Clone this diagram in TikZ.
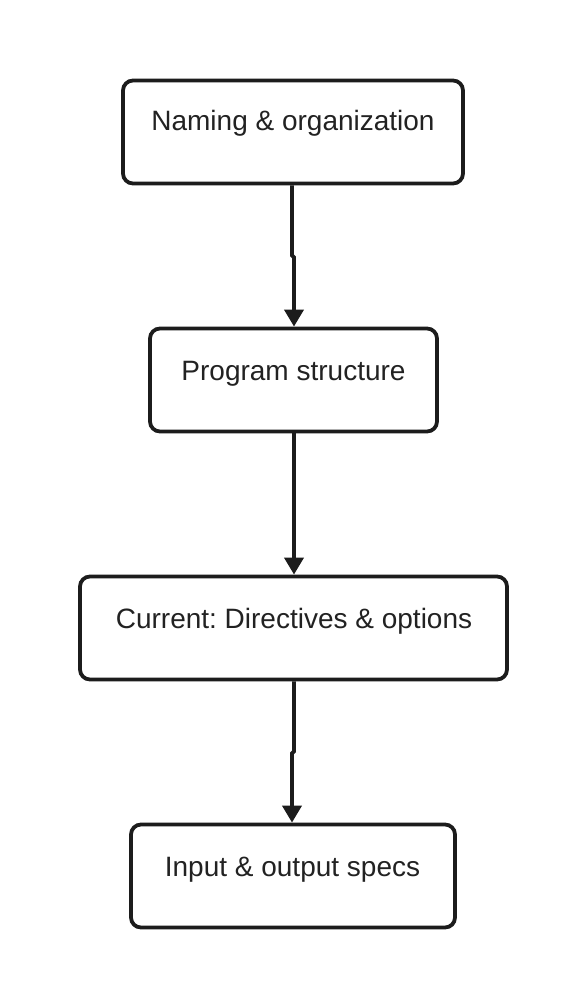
\documentclass[tikz,border=0pt]{standalone}
\usepackage{fontspec}
\setmainfont{Liberation Sans}
\usetikzlibrary{arrows.meta}
\definecolor{ink}{HTML}{1C1C1C}
\definecolor{txtc}{HTML}{222222}
\tikzset{
  box/.style={draw=ink, line width=3.8pt, rounded corners=10pt, rectangle, minimum height=103pt, inner sep=0pt},
  lbl/.style={anchor=base, text=txtc, font=\fontsize{28}{33}\selectfont\frenchspacing, inner sep=0pt},
  conn/.style={draw=ink, line width=3.8pt, -{Triangle[width=19pt,length=17pt]}},
}
\begin{document}
\begin{tikzpicture}[x=1pt,y=-1pt]
\useasboundingbox[fill=white] (0,0) rectangle (588,1008);
\node[box, minimum width=340pt] (b1) at (293,132) {};
\node[box, minimum width=287pt] (b2) at (293.5,380) {};
\node[box, minimum width=427pt] (b3) at (293.5,628) {};
\node[box, minimum width=324pt] (b4) at (293,876) {};
\node[lbl] (t1) at (293,131) {Naming \& organization};
\node[lbl] (t2) at (293.5,380) {Program structure};
\node[lbl] (t3) at (294,628) {Current: Directives \& options};
\node[lbl] (t4) at (292.5,876) {Input \& output specs};
\draw[conn] ([xshift=-1pt]b1.south) -- ++(0,70) -- ++(2,2) -- ([xshift=0.5pt]b2.north);
\draw[conn] ([xshift=0.5pt]b2.south) -- ([xshift=0.5pt]b3.north);
\draw[conn] ([xshift=0.5pt]b3.south) -- ++(0,70) -- ++(-2,2) -- ([xshift=-1pt]b4.north);
\end{tikzpicture}
\end{document}
